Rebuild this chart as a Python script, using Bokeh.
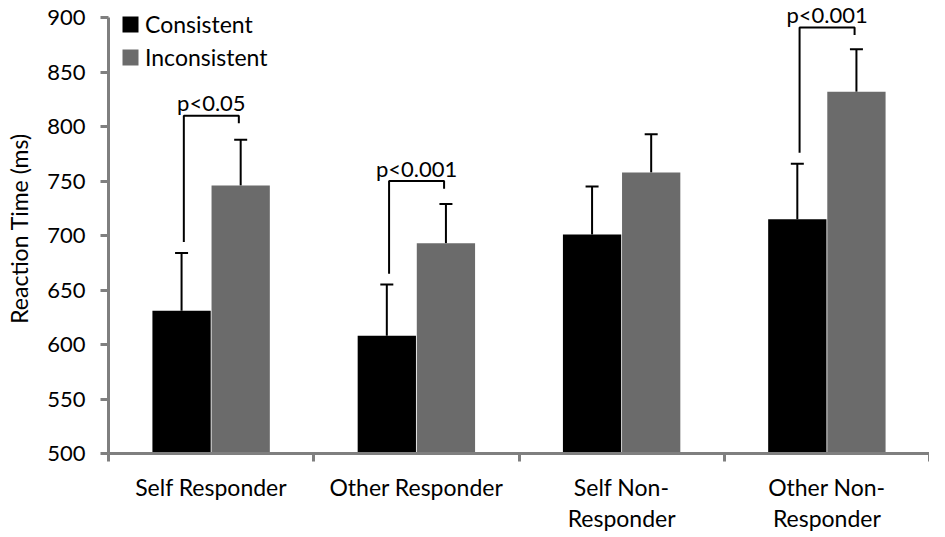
from bokeh.plotting import figure
from bokeh.models import ColumnDataSource, FixedTicker, Legend, LegendItem, Whisker, TeeHead, Range1d
from bokeh.core.properties import value
from bokeh.embed import file_html
from bokeh.resources import INLINE

categories = ["Self Responder", "Other Responder", "Self Non-\nResponder", "Other Non-\nResponder"]
consistent = [631, 608, 701, 715]
consistent_se = [53, 47, 44, 51]
inconsistent = [746, 693, 758, 832]
inconsistent_se = [42, 36, 35, 39]

# significance brackets: group index, bracket height, label
sig_groups = [0, 1, 3]
sig_top = [810, 750, 891]
sig_labels = ["p<0.05", "p<0.001", "p<0.001"]

FONT = "Lato"
AXIS_GREY = "#7f7f7f"
BAR_GREY = "#6b6b6b"

centers = [i + 0.5 for i in range(len(categories))]
src = ColumnDataSource(data=dict(
    xc=[c - 0.144 for c in centers],
    xi=[c + 0.144 for c in centers],
    consistent=consistent,
    inconsistent=inconsistent,
    c_up=[v + e for v, e in zip(consistent, consistent_se)],
    i_up=[v + e for v, e in zip(inconsistent, inconsistent_se)],
))

# a little headroom above 900 so the top annotation isn't clipped
p = figure(width=929, height=537, x_range=Range1d(0, 4), y_range=Range1d(500, 913),
           output_backend="svg", toolbar_location=None,
           min_border_left=108, min_border_top=3, min_border_right=0, min_border_bottom=84)
p.outline_line_color = None
p.grid.visible = False

r1 = p.vbar(x="xc", top="consistent", bottom=500, width=0.284, fill_color="black",
            line_color=None, source=src)
r2 = p.vbar(x="xi", top="inconsistent", bottom=500, width=0.284, fill_color=BAR_GREY,
            line_color=None, source=src)

for xcol, lo, hi in [("xc", "consistent", "c_up"), ("xi", "inconsistent", "i_up")]:
    w = Whisker(base=xcol, lower=lo, upper=hi, source=src, line_color="black", line_width=2,
                lower_head=None, upper_head=TeeHead(size=13, line_color="black", line_width=2))
    p.add_layout(w)

# brackets
xs, ys, tx, ty = [], [], [], []
for g, top in zip(sig_groups, sig_top):
    left = centers[g] - 0.133
    right = centers[g] + 0.135
    xs.append([left, left, right, right])
    ys.append([consistent[g] + consistent_se[g] + 10, top, top, top - 7])
    tx.append((left + right) / 2)
    ty.append(top + 12)
p.multi_line(xs, ys, line_color="black", line_width=2)
p.text(x=tx, y=ty, text=sig_labels, text_font=value(FONT), text_font_size="22px",
       text_align="center", text_baseline="alphabetic", text_color="black")

# y axis
p.yaxis.bounds = (500, 900)
p.yaxis.ticker = FixedTicker(ticks=list(range(500, 901, 50)))
p.yaxis.axis_label = "Reaction Time (ms)"
p.yaxis.axis_label_text_font = FONT
p.yaxis.axis_label_text_font_size = "23px"
p.yaxis.axis_label_text_font_style = "normal"
p.yaxis.axis_label_standoff = 11
p.yaxis.major_label_text_font = FONT
p.yaxis.major_label_text_font_size = "22px"
p.yaxis.major_label_standoff = 15
p.yaxis.major_tick_out = 8
p.yaxis.major_tick_in = 0
p.yaxis.minor_tick_line_color = None

# x axis: labels at centres, ticks at boundaries
p.xaxis.ticker = FixedTicker(ticks=centers, minor_ticks=[0, 1, 2, 3, 4])
p.xaxis.major_label_overrides = {c: lab for c, lab in zip(centers, categories)}
p.xaxis.major_tick_line_color = None
p.xaxis.major_tick_out = 0
p.xaxis.major_label_standoff = 11
p.xaxis.major_label_text_font = FONT
p.xaxis.major_label_text_font_size = "23px"
p.xaxis.major_label_text_line_height = 1.12
p.xaxis.minor_tick_out = 8
p.xaxis.minor_tick_in = 0

for ax in (p.xaxis, p.yaxis):
    ax.axis_line_color = AXIS_GREY
    ax.axis_line_width = 3
    ax.major_label_text_color = "black"
    ax.axis_label_text_color = "black"
p.yaxis.major_tick_line_color = AXIS_GREY
p.yaxis.major_tick_line_width = 3
p.xaxis.minor_tick_line_color = AXIS_GREY
p.xaxis.minor_tick_line_width = 3

legend = Legend(items=[LegendItem(label="Consistent", renderers=[r1]),
                       LegendItem(label="Inconsistent", renderers=[r2])],
                location=(12, 380), glyph_width=20, glyph_height=20, label_height=33,
                label_text_font=FONT, label_text_font_size="23px", label_text_color="black",
                label_standoff=5, padding=0, margin=0, spacing=0,
                border_line_color=None, background_fill_alpha=0)
p.add_layout(legend)

open("out.html", "w").write(file_html(p, INLINE))
